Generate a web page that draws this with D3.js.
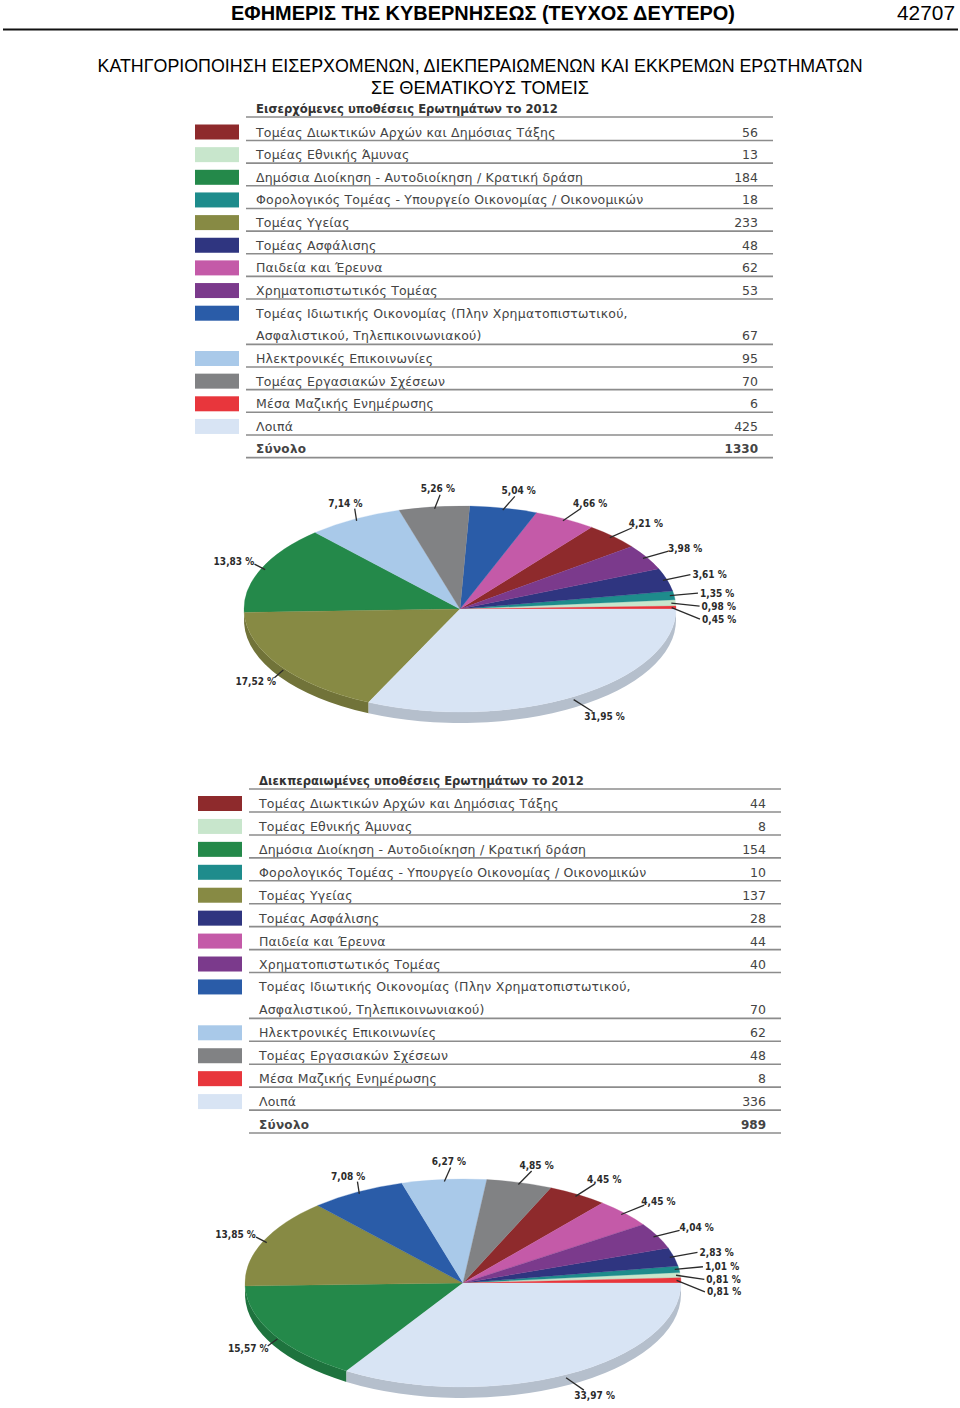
<!DOCTYPE html>
<html>
<head>
<meta charset="utf-8">
<script src="https://cdn.jsdelivr.net/npm/d3@7"></script>
<style>
  body { margin: 0; background: #fff; }
  svg { display: block; }
</style>
</head>
<body>
<div id="page"></div>
<script>
// --- data ---
const categories = [
  ["Τομέας Διωκτικών Αρχών και Δημόσιας Τάξης"],
  ["Τομέας Εθνικής Άμυνας"],
  ["Δημόσια Διοίκηση - Αυτοδιοίκηση / Κρατική δράση"],
  ["Φορολογικός Τομέας - Υπουργείο Οικονομίας / Οικονομικών"],
  ["Τομέας Υγείας"],
  ["Τομέας Ασφάλισης"],
  ["Παιδεία και Έρευνα"],
  ["Χρηματοπιστωτικός Τομέας"],
  ["Τομέας Ιδιωτικής Οικονομίας (Πλην Χρηματοπιστωτικού,", "Ασφαλιστικού, Τηλεπικοινωνιακού)"],
  ["Ηλεκτρονικές Επικοινωνίες"],
  ["Τομέας Εργασιακών Σχέσεων"],
  ["Μέσα Μαζικής Ενημέρωσης"],
  ["Λοιπά"]
];
const colors = ["#8e2a2c", "#c8e6cc", "#24894a", "#1e8c8c", "#878a44", "#2f3580", "#c45aa8",
                "#7b3a8c", "#2a5ca8", "#a9c9e9", "#818284", "#e8363c", "#d8e4f4"];
const incoming = [56, 13, 184, 18, 233, 48, 62, 53, 67, 95, 70, 6, 425];
const resolved = [44, 8, 154, 10, 137, 28, 44, 40, 70, 62, 48, 8, 336];

const pageTitle = "ΕΦΗΜΕΡΙΣ ΤΗΣ ΚΥΒΕΡΝΗΣΕΩΣ (ΤΕΥΧΟΣ ΔΕΥΤΕΡΟ)";
const pageNumber = "42707";
const subtitle = ["ΚΑΤΗΓΟΡΙΟΠΟΙΗΣΗ ΕΙΣΕΡΧΟΜΕΝΩΝ, ΔΙΕΚΠΕΡΑΙΩΜΕΝΩΝ ΚΑΙ ΕΚΚΡΕΜΩΝ ΕΡΩΤΗΜΑΤΩΝ",
                  "ΣΕ ΘΕΜΑΤΙΚΟΥΣ ΤΟΜΕΙΣ"];
const tableTitles = ["Εισερχόμενες υποθέσεις Ερωτημάτων το 2012",
                     "Διεκπεραιωμένες υποθέσεις Ερωτημάτων το 2012"];
const totalLabel = "Σύνολο";

const W = 960, H = 1408;
const narrow = "'Liberation Sans Narrow', 'Arial Narrow', 'Liberation Sans', sans-serif";
const tableFont = "'DejaVu Sans', sans-serif";
const labelFont = "'DejaVu Sans Condensed', 'DejaVu Sans', sans-serif";

const svg = d3.select("#page").append("svg")
  .attr("width", W)
  .attr("height", H)
  .attr("viewBox", [0, 0, W, H]);

// --- header ---
svg.append("text")
  .attr("x", 483).attr("y", 20)
  .attr("text-anchor", "middle")
  .attr("textLength", 504).attr("lengthAdjust", "spacingAndGlyphs")
  .style("font", `bold 21px ${narrow}`)
  .text(pageTitle);

svg.append("text")
  .attr("x", 955).attr("y", 20)
  .attr("text-anchor", "end")
  .attr("textLength", 58).attr("lengthAdjust", "spacingAndGlyphs")
  .style("font", `21px ${narrow}`)
  .text(pageNumber);

svg.append("line")
  .attr("x1", 3).attr("x2", 958)
  .attr("y1", 29.5).attr("y2", 29.5)
  .attr("stroke", "#111").attr("stroke-width", 2);

svg.selectAll("text.sub")
  .data(subtitle)
  .enter().append("text")
  .attr("class", "sub")
  .attr("x", 480)
  .attr("y", (d, i) => 72 + i * 22)
  .attr("text-anchor", "middle")
  .attr("textLength", (d, i) => i === 0 ? 765 : 218)
  .attr("lengthAdjust", "spacingAndGlyphs")
  .style("font", `19px ${narrow}`)
  .text(d => d);

// --- tables ---
function drawTable(opts) {
  const g = svg.append("g");
  const total = d3.sum(opts.values);

  let rows = [];
  categories.forEach((lines, i) => {
    lines.forEach((t, j) => {
      rows.push({
        text: t,
        color: j === 0 ? colors[i] : null,
        value: j === lines.length - 1 ? opts.values[i] : null,
        sep: j === lines.length - 1
      });
    });
  });
  rows.push({ text: totalLabel, color: null, value: total, sep: true, bold: true });

  const y = d3.scaleLinear()
    .domain([0, rows.length - 1])
    .range([opts.rowY0, opts.rowY0 + opts.step * (rows.length - 1)]);

  g.append("text")
    .attr("x", opts.textX).attr("y", opts.titleY).attr("dy", "0.36em")
    .style("font", `bold 11.6px ${tableFont}`)
    .attr("fill", "#333")
    .text(opts.title);
  g.append("line")
    .attr("x1", opts.lineX1).attr("x2", opts.lineX2)
    .attr("y1", opts.titleY + 8).attr("y2", opts.titleY + 8)
    .attr("stroke", "#8c8c8c").attr("stroke-width", 1.6);

  const row = g.selectAll("g.row")
    .data(rows)
    .enter().append("g")
    .attr("class", "row")
    .attr("transform", (d, i) => `translate(0,${y(i)})`);

  row.filter(d => d.color)
    .append("rect")
    .attr("x", opts.swatchX).attr("y", -7.5)
    .attr("width", 44).attr("height", 15)
    .attr("fill", d => d.color);

  const rowFont = d => d.bold ? `bold 12px ${tableFont}` : `12.5px ${tableFont}`;

  row.append("text")
    .attr("x", opts.textX).attr("dy", "0.36em")
    .attr("fill", "#444")
    .style("font", rowFont)
    .style("letter-spacing", d => d.bold ? "0.3px" : "0.2px")
    .text(d => d.text);

  row.filter(d => d.value !== null)
    .append("text")
    .attr("x", opts.valueX).attr("dy", "0.36em")
    .attr("text-anchor", "end")
    .attr("fill", "#444")
    .style("font", rowFont)
    .text(d => d.value);

  row.filter(d => d.sep)
    .append("line")
    .attr("x1", opts.lineX1).attr("x2", opts.lineX2)
    .attr("y1", 8.5).attr("y2", 8.5)
    .attr("stroke", "#8c8c8c").attr("stroke-width", 1.6);
}

// --- 3D pies ---
const fmt = v => d3.format(".2f")(v).replace(".", ",") + " %";

function drawPie(opts) {
  const { cx, cy, rx, ry, depth } = opts;
  const g = svg.append("g");
  const total = d3.sum(opts.values);
  const items = opts.values.map((v, i) => ({ v, i }));

  const pie = d3.pie()
    .value(d => d.v)
    .sort((a, b) => (a.v - b.v) || (b.i - a.i))
    .startAngle(0)
    .endAngle(2 * Math.PI);
  const arcs = pie(items);

  const px = (t, k = 1) => cx + rx * k * Math.cos(t);
  const py = (t, k = 1) => cy - ry * k * Math.sin(t);

  // side walls (front half only)
  const sides = arcs.map(d => {
    const a0 = Math.max(d.startAngle, Math.PI);
    const a1 = Math.min(d.endAngle, 2 * Math.PI);
    return { d, a0, a1 };
  }).filter(s => s.a1 > s.a0);

  g.selectAll("path.side")
    .data(sides)
    .enter().append("path")
    .attr("class", "side")
    .attr("fill", s => d3.color(colors[s.d.data.i]).darker(0.5))
    .attr("d", s => `M${px(s.a0)},${py(s.a0)}A${rx},${ry} 0 0 0 ${px(s.a1)},${py(s.a1)}` +
      `L${px(s.a1)},${py(s.a1) + depth}A${rx},${ry} 0 0 1 ${px(s.a0)},${py(s.a0) + depth}Z`);

  // top faces
  g.selectAll("path.top")
    .data(arcs)
    .enter().append("path")
    .attr("class", "top")
    .attr("fill", d => colors[d.data.i])
    .attr("stroke", d => colors[d.data.i])
    .attr("stroke-width", 0.3)
    .attr("d", d => {
      const large = d.endAngle - d.startAngle > Math.PI ? 1 : 0;
      return `M${cx},${cy}L${px(d.startAngle)},${py(d.startAngle)}` +
        `A${rx},${ry} 0 ${large} 0 ${px(d.endAngle)},${py(d.endAngle)}Z`;
    });

  // labels
  const labels = arcs.map(d => {
    const t = (d.startAngle + d.endAngle) / 2;
    const c = Math.cos(t), s = Math.sin(t);
    const front = s < 0 ? depth * 0.5 : 0;
    const ex = px(t, 0.98), ey = py(t, 0.98) + front;
    const ox = cx + (rx + 16) * c + 8;
    const oy = cy - (ry + 12) * s + front;
    return { d, t, c, s, ex, ey, ox, oy, text: fmt(d.value / total * 100) };
  });

  const texts = g.selectAll("text.pct")
    .data(labels)
    .enter().append("text")
    .attr("class", "pct")
    .attr("dy", "0.35em")
    .attr("text-anchor", "middle")
    .attr("fill", "#2b2b2b")
    .style("font", `bold 10px ${labelFont}`)
    .text(l => l.text);

  texts.each(function (l) {
    l.w = this.getComputedTextLength();
    l.tx = l.ox + l.c * (l.w / 2 + 2);
    l.ty = l.oy - l.s * 6;
  });

  // stack the thin slices on the right so they don't overlap
  const right = labels.filter(l => l.c > 0.9).sort((a, b) => a.ty - b.ty);
  right.forEach((l, k) => {
    if (k > 0 && l.ty < right[k - 1].ty + opts.gap) l.ty = right[k - 1].ty + opts.gap;
    l.tx = l.ox + l.w / 2 + 2;
    l.oy = l.ty;
  });

  texts.attr("x", l => l.tx).attr("y", l => l.ty);

  g.selectAll("line.leader")
    .data(labels)
    .enter().insert("line", "text.pct")
    .attr("class", "leader")
    .attr("x1", l => l.ex).attr("y1", l => l.ey)
    .attr("x2", l => l.ox).attr("y2", l => l.oy)
    .attr("stroke", "#2b2b2b").attr("stroke-width", 1.3);
}

drawTable({ title: tableTitles[0], values: incoming, swatchX: 195, textX: 256, lineX1: 246, lineX2: 773,
            valueX: 758, titleY: 109, rowY0: 132, step: 22.65 });
drawPie({ values: incoming, cx: 460, cy: 609, rx: 216, ry: 103, depth: 11, gap: 13 });

drawTable({ title: tableTitles[1], values: resolved, swatchX: 198, textX: 259, lineX1: 249, lineX2: 781,
            valueX: 766, titleY: 781, rowY0: 803.5, step: 22.93 });
drawPie({ values: resolved, cx: 463, cy: 1283, rx: 218, ry: 104, depth: 11, gap: 12.5 });
</script>
</body>
</html>
